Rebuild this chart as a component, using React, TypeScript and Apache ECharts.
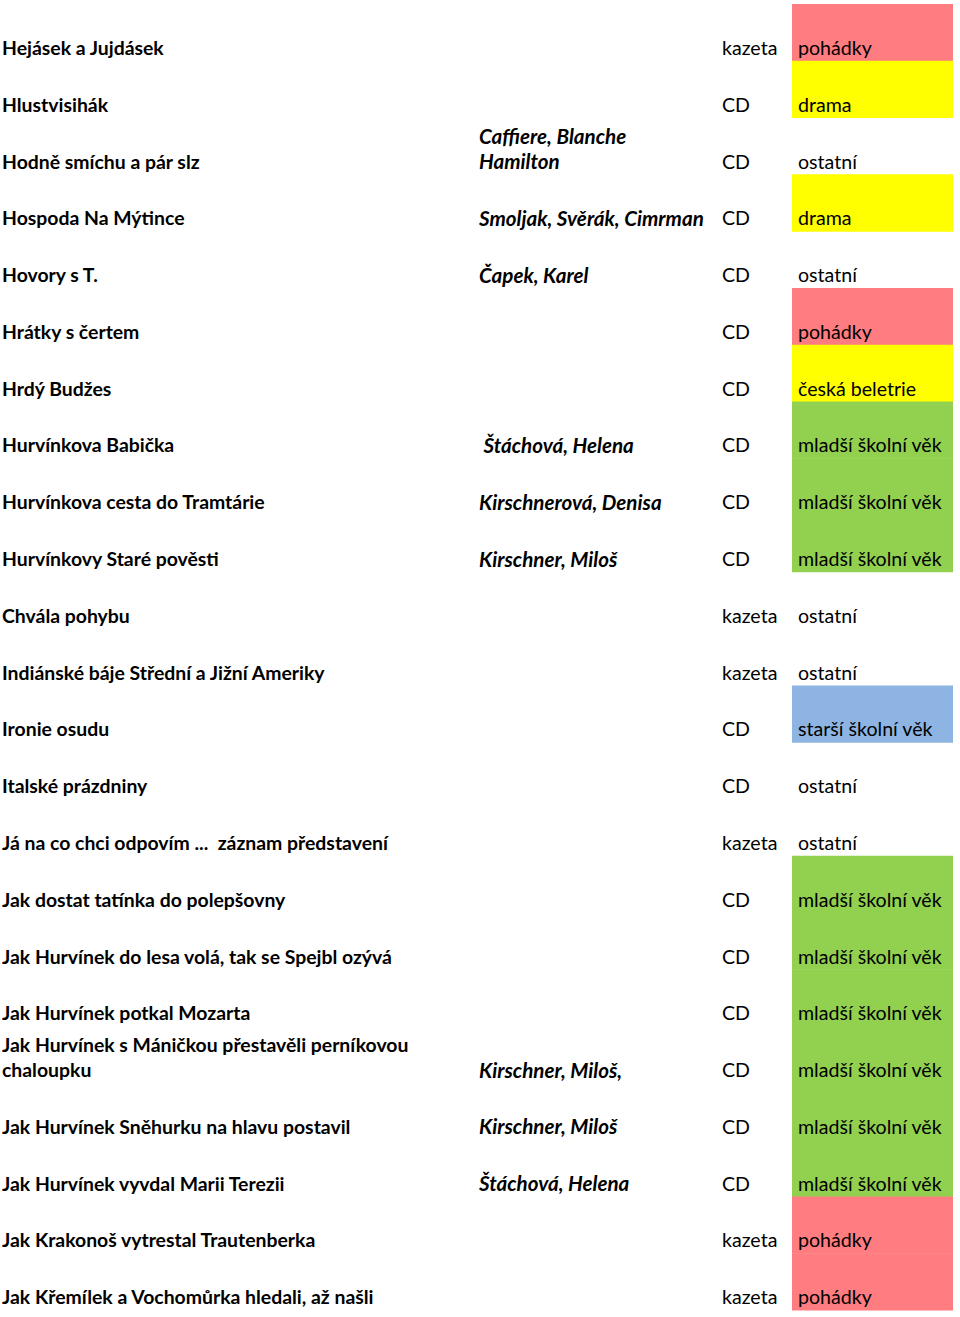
import React, { useEffect, useRef } from "react";
import * as echarts from "echarts";

const titles: string[] = [
  "Hejásek a Jujdásek",
  "Hlustvisihák",
  "Hodně smíchu a pár slz",
  "Hospoda Na Mýtince",
  "Hovory s T.",
  "Hrátky s čertem",
  "Hrdý Budžes",
  "Hurvínkova Babička",
  "Hurvínkova cesta do Tramtárie",
  "Hurvínkovy Staré pověsti",
  "Chvála pohybu",
  "Indiánské báje Střední a Jižní Ameriky",
  "Ironie osudu",
  "Italské prázdniny",
  "Já na co chci odpovím ...  záznam představení",
  "Jak dostat tatínka do polepšovny",
  "Jak Hurvínek do lesa volá, tak se Spejbl ozývá",
  "Jak Hurvínek potkal Mozarta",
  "Jak Hurvínek s Máničkou přestavěli perníkovou\nchaloupku",
  "Jak Hurvínek Sněhurku na hlavu postavil",
  "Jak Hurvínek vyvdal Marii Terezii",
  "Jak Krakonoš vytrestal Trautenberka",
  "Jak Křemílek a Vochomůrka hledali, až našli",
];

const authors: string[] = [
  "",
  "",
  "Caffiere, Blanche\nHamilton",
  "Smoljak, Svěrák, Cimrman",
  "Čapek, Karel",
  "",
  "",
  " Štáchová, Helena",
  "Kirschnerová, Denisa",
  "Kirschner, Miloš",
  "",
  "",
  "",
  "",
  "",
  "",
  "",
  "",
  "Kirschner, Miloš,",
  "Kirschner, Miloš",
  "Štáchová, Helena",
  "",
  "",
];

const media: string[] = [
  "kazeta", "CD", "CD", "CD", "CD", "CD", "CD", "CD", "CD", "CD",
  "kazeta", "kazeta", "CD", "CD", "kazeta", "CD", "CD", "CD", "CD", "CD",
  "CD", "kazeta", "kazeta",
];

const genres: string[] = [
  "pohádky", "drama", "ostatní", "drama", "ostatní", "pohádky", "česká beletrie",
  "mladší školní věk", "mladší školní věk", "mladší školní věk",
  "ostatní", "ostatní", "starší školní věk", "ostatní", "ostatní",
  "mladší školní věk", "mladší školní věk", "mladší školní věk", "mladší školní věk",
  "mladší školní věk", "mladší školní věk", "pohádky", "pohádky",
];

const genreColors: Record<string, string> = {
  "pohádky": "#FF7C80",
  "drama": "#FFFF00",
  "česká beletrie": "#FFFF00",
  "mladší školní věk": "#92D050",
  "starší školní věk": "#8DB4E2",
};

const columnX = { title: 2, author: 479, medium: 722, genre: 798, cellLeft: 792, cellRight: 953 };

const FONT = "Lato, 'Noto Sans', sans-serif";

export default function App() {
  const ref = useRef<HTMLDivElement>(null);
  useEffect(() => {
    if (!ref.current) return;
    const chart = echarts.init(ref.current, null, { renderer: "svg" });
    const rows = titles.map((_, i) => i);
    const lineH = 25.5;

    const mkText = (lines: string, x: number, baseY: number, font: string) => {
      const parts = lines.split("\n");
      return parts.map((p, k) => ({
        type: "text",
        style: {
          x,
          y: baseY - (parts.length - 1 - k) * lineH,
          text: p,
          fill: "#000",
          font,
          textAlign: "left",
          textVerticalAlign: "middle",
          verticalAlign: "middle",
        },
      }));
    };

    const fTitle = `normal bold 19.4px ${FONT}`;
    const fAuthor = `italic bold 20.6px ${FONT}`;
    const fPlain = `normal normal 19.6px ${FONT}`;

    chart.setOption({
      animation: false,
      grid: { left: 0, right: 0, top: 4, bottom: 7 },
      xAxis: { type: "value", min: 0, max: 960, show: false },
      yAxis: { type: "category", data: rows.map(String), inverse: true, show: false },
      series: [
        {
          type: "custom",
          data: rows.map((i) => [0, i]),
          renderItem: (params: any, api: any) => {
            const i = api.value(1);
            const c = api.coord([0, i]);
            const band = api.size([0, 1])[1];
            const top = c[1] - band / 2;
            const bottom = c[1] + band / 2;
            const x0 = api.coord([columnX.cellLeft, i])[0];
            const x1 = api.coord([columnX.cellRight, i])[0];
            const ty = bottom - 13.3;
            const children: any[] = [];
            const col = genreColors[genres[i]];
            if (col) {
              children.push({
                type: "rect",
                shape: { x: x0, y: top, width: x1 - x0, height: band + 0.5 },
                style: { fill: col },
              });
            }
            children.push(...mkText(titles[i], api.coord([columnX.title, i])[0], ty, fTitle));
            if (authors[i]) {
              children.push(...mkText(authors[i], api.coord([columnX.author, i])[0], ty, fAuthor));
            }
            children.push(...mkText(media[i], api.coord([columnX.medium, i])[0], ty, fPlain));
            children.push(...mkText(genres[i], api.coord([columnX.genre, i])[0], ty, fPlain));
            return { type: "group", children };
          },
        },
      ],
    });
    return () => chart.dispose();
  }, []);
  return (
    <div
      ref={ref}
      style={{ position: "absolute", left: 0, top: 0, width: 960, height: 1317, background: "#fff" }}
    />
  );
}
